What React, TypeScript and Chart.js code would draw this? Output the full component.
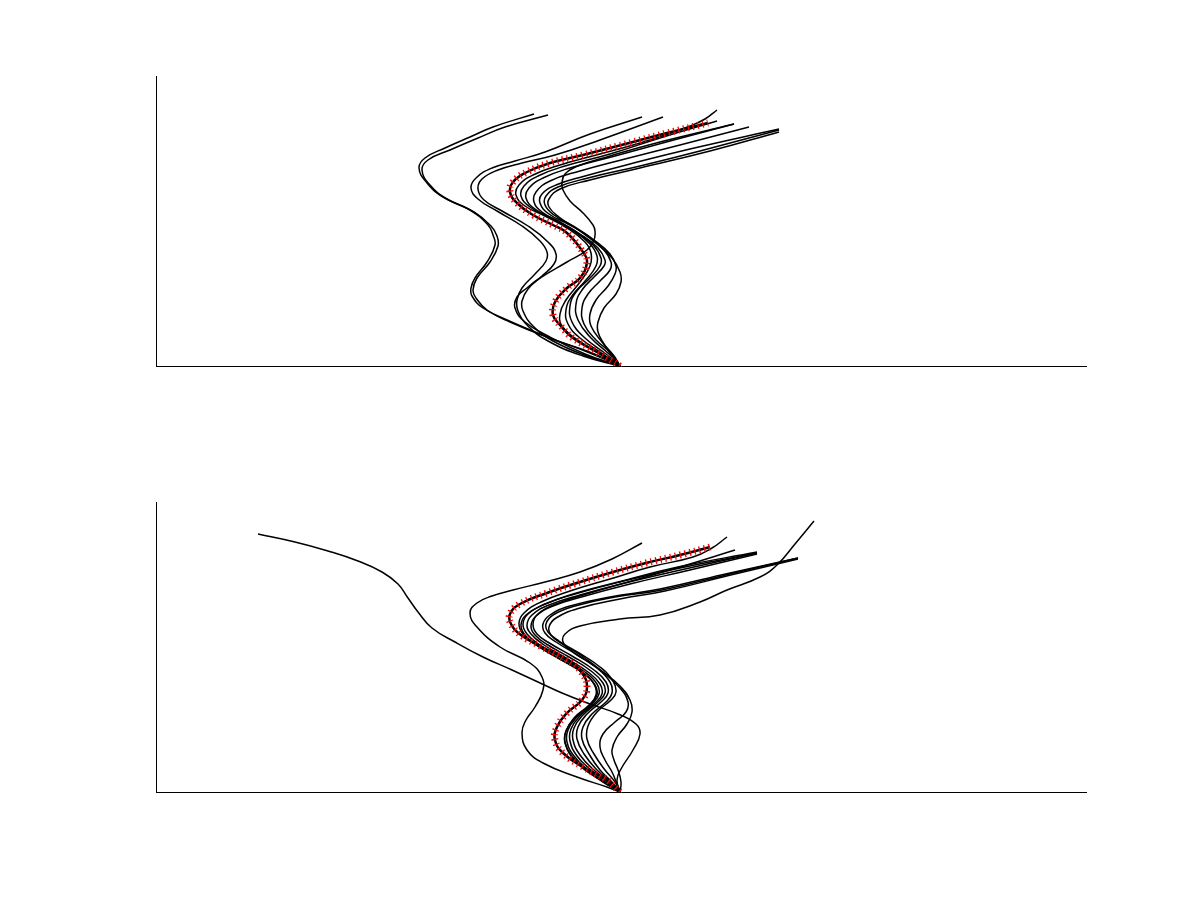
import React, { useEffect, useRef } from "react";
import { Chart, registerables } from "chart.js";

Chart.register(...registerables);

type P = [number, number];

// Axis ranges (arbitrary units, no tick labels in the original)
const X_MIN = 156;
const X_MAX = 1086;
const Y_MIN = 0;
const Y_MAX = 290;

// ---------- Top panel trajectories ----------
const topL1: P[] = [[620,0],[590,13],[550,28],[507,46],[483,58],[472,70],[471,78],[475,88],[487,104],[495,121],[493,131],[488,141],[470,156],[443,169],[427,183],[419,198],[425,208],[445,218],[470,229],[493,239],[534,252]];
const topL2: P[] = [[620,0],[592,13],[552,27],[510,44],[487,56],[476,68],[473,76],[477,88],[490,104],[498,120],[497,130],[491,140],[474,154],[447,167],[430,181],[422,196],[428,206],[450,216],[478,228],[505,239],[548,251]];
const topB1: P[] = [[620,0],[583,10],[548,25],[528,40],[518,55],[517,66],[522,78],[535,92],[546,105],[547,114],[540,125],[522,140],[497,155],[478,167],[471,178],[476,188],[492,198],[515,205],[545,214],[590,232],[642,249]];
const topB2: P[] = [[620,0],[587,10],[553,25],[533,40],[523,55],[522,65],[528,77],[542,90],[554,102],[556,112],[548,124],[528,140],[502,155],[484,166],[478,177],[482,187],[498,196],[522,203],[555,211],[600,226],[663,249]];
const topW: P[] = [[620,0],[585,12],[548,30],[525,44],[515,58],[517,69],[527,78],[540,88],[567,104],[587,116],[594,126],[595,135],[593,141],[583,153],[570,165],[563,176],[562,183],[565,192],[578,200],[610,210],[660,224],[734,242]];
const topR1: P[] = [[620,0],[600,12],[575,28],[562,40],[560,52],[566,66],[580,84],[590,100],[591,113],[585,124],[567,138],[545,150],[525,160],[516,171],[519,181],[533,191],[560,201],[600,212],[650,226],[690,240],[705,247],[717,256]];
const topR2: P[] = [[620,0],[603,12],[580,28],[568,42],[566,56],[572,70],[586,86],[596,100],[597,110],[590,122],[572,136],[550,148],[530,159],[521,170],[524,180],[538,190],[565,200],[610,212],[660,228],[717,245]];
const topR3: P[] = [[620,0],[606,12],[585,28],[572,44],[570,60],[576,74],[590,88],[600,100],[601,108],[594,120],[576,134],[556,146],[535,157],[526,168],[529,178],[543,188],[570,198],[615,210],[670,225],[734,242]];
const topR4: P[] = [[620,0],[609,12],[591,28],[578,46],[576,62],[582,76],[595,90],[604,100],[605,106],[598,118],[580,132],[560,144],[542,154],[534,164],[536,174],[550,185],[580,195],[625,207],[680,221],[749,239]];
const topR5: P[] = [[620,0],[612,12],[596,26],[584,42],[582,58],[588,72],[600,85],[610,96],[611,104],[604,116],[588,130],[568,142],[549,152],[540,163],[542,172],[556,181],[585,190],[630,202],[690,217],[779,237]];
const topR6: P[] = [[620,0],[614,10],[602,24],[591,40],[590,52],[596,66],[608,80],[615,92],[616,100],[610,112],[594,126],[573,140],[554,151],[545,161],[546,170],[558,179],[588,188],[640,200],[700,215],[779,236]];
const topR7: P[] = [[620,0],[612,10],[604,22],[598,34],[598,44],[604,58],[616,72],[621,84],[620,94],[612,108],[597,122],[577,137],[559,149],[549,159],[549,167],[560,177],[590,186],[640,198],[710,215],[779,234]];
const topMean: P[] = [[620,0],[597,14],[573,28],[560,41],[553,51],[555,64],[567,78],[580,88],[587,104],[583,114],[567,133],[553,141],[533,151],[517,163],[510,174],[513,184],[527,194],[550,203],[583,211],[633,224],[667,233],[708,243]];

// ---------- Bottom panel trajectories ----------
const botBL: P[] = [[620,0],[617,12],[621,23],[633,42],[640,58],[636,68],[618,78],[590,88],[562,99],[538,110],[512,122],[483,135],[455,150],[432,164],[418,180],[408,194],[398,208],[382,220],[358,231],[328,241],[295,250],[258,258]];
const botS2: P[] = [[620,0],[607,5],[577,15],[543,29],[527,42],[522,59],[526,72],[535,85],[543,102],[542,115],[530,129],[500,145],[477,165],[470,179],[477,189],[492,196],[513,202],[545,210],[580,220],[612,233],[642,249]];
const botG1a: P[] = [[620,0],[605,10],[588,22],[574,36],[567,50],[568,62],[577,75],[592,88],[599,98],[597,108],[585,120],[562,134],[540,147],[527,158],[523,168],[528,178],[545,188],[575,198],[620,210],[680,224],[757,239]];
const botG1b: P[] = [[620,0],[607,10],[591,22],[577,36],[570,51],[571,63],[580,76],[595,89],[602,98],[600,108],[588,120],[566,134],[544,147],[531,158],[527,167],[532,177],[549,187],[580,197],[625,209],[685,223],[757,239]];
const botG1c: P[] = [[620,0],[609,10],[594,22],[580,37],[573,52],[574,64],[583,77],[598,90],[605,99],[603,109],[591,121],[569,135],[548,147],[535,157],[531,166],[536,176],[553,186],[585,196],[630,208],[690,222],[757,238]];
const botG1d: P[] = [[620,0],[603,10],[586,22],[572,36],[565,49],[566,61],[575,74],[590,87],[597,97],[595,107],[583,119],[560,133],[538,146],[525,157],[521,167],[526,177],[543,187],[573,198],[618,210],[678,225],[757,240]];
const botC1: P[] = [[620,0],[611,10],[597,22],[584,38],[577,53],[578,65],[587,78],[601,90],[608,99],[606,110],[594,122],[572,136],[551,148],[537,158],[533,168],[538,178],[556,188],[590,199],[635,212],[680,225],[735,242]];
const botC2: P[] = [[620,0],[604,10],[585,22],[571,36],[565,50],[566,61],[574,74],[589,87],[596,97],[594,108],[582,120],[558,134],[536,147],[523,158],[519,169],[524,179],[541,190],[570,201],[610,213],[650,225],[693,235],[712,244],[727,255]];
const botG2a: P[] = [[620,0],[612,10],[600,22],[589,38],[582,53],[583,65],[592,78],[606,90],[612,99],[610,110],[597,124],[576,138],[556,150],[545,159],[543,168],[550,177],[570,186],[610,195],[660,203],[730,219],[798,234]];
const botG2b: P[] = [[620,0],[615,10],[605,22],[594,38],[587,53],[588,66],[597,80],[611,92],[616,100],[613,111],[600,125],[579,139],[559,151],[548,160],[546,168],[553,177],[575,186],[615,195],[662,202],[730,218],[798,234]];
const botG2c: P[] = [[620,0],[617,8],[612,20],[605,32],[600,45],[603,58],[615,70],[626,80],[628,90],[620,104],[603,120],[582,136],[562,148],[551,157],[549,165],[556,174],[580,184],[620,193],[665,201],[735,218],[798,233]];
const botX: P[] = [[620,0],[621,10],[618,22],[614,32],[612,42],[617,55],[627,68],[632,80],[630,92],[620,106],[603,120],[585,132],[570,142],[563,150],[565,158],[580,166],[620,173],[660,177],[700,190],[727,202],[760,215],[777,227],[795,248],[814,271]];
const botMean: P[] = [[620,0],[607,12],[583,25],[563,39],[555,52],[557,65],[567,79],[582,92],[587,105],[582,119],[567,132],[540,146],[521,157],[511,168],[510,178],[520,188],[547,199],[580,210],[613,220],[646,229],[680,237],[710,245]];

const topCurves: P[][] = [topL1, topL2, topB1, topB2, topW, topR1, topR2, topR3, topR4, topR5, topR6, topR7];
const botCurves: P[][] = [botBL, botS2, botG1a, botG1b, botG1c, botG1d, botC1, botC2, botG2a, botG2b, botG2c, botX];

function toPts(c: P[]) {
  return c.map(([x, y]) => ({ x, y }));
}

function buildDatasets(curves: P[][], mean: P[]) {
  const ds: any[] = curves.map((c, i) => ({
    data: toPts(c),
    borderColor: "#000000",
    borderWidth: 1.5,
    pointRadius: 0,
    showLine: true,
    tension: 0.45,
    fill: false,
    order: 10 + i,
  }));
  ds.push({
    data: toPts(mean),
    borderColor: "#000000",
    borderWidth: 2.5,
    pointRadius: 0,
    showLine: true,
    tension: 0.45,
    fill: false,
    order: 2,
  });
  ds.push({
    data: toPts(mean),
    borderColor: "#ff0000",
    borderWidth: 7,
    borderDash: [1.3, 3.7],
    borderCapStyle: "butt",
    pointRadius: 0,
    showLine: true,
    tension: 0.45,
    fill: false,
    order: 1,
  });
  return ds;
}

function Panel({ curves, mean, padTop, padBottom }: { curves: P[][]; mean: P[]; padTop: number; padBottom: number }) {
  const ref = useRef<HTMLCanvasElement | null>(null);
  useEffect(() => {
    if (!ref.current) return;
    const chart = new Chart(ref.current, {
      type: "scatter",
      data: { datasets: buildDatasets(curves, mean) },
      options: {
        animation: false,
        responsive: false,
        devicePixelRatio: 1,
        layout: { padding: { left: 156, right: 114, top: padTop, bottom: padBottom } },
        plugins: { legend: { display: false }, tooltip: { enabled: false }, title: { display: false } },
        elements: { line: { borderJoinStyle: "round" } },
        scales: {
          x: {
            type: "linear",
            min: X_MIN,
            max: X_MAX,
            grid: { display: false, drawTicks: false },
            ticks: { display: false },
            border: { display: true, color: "#000000", width: 1 },
            afterFit: (s: any) => { s.height = 0; },
          },
          y: {
            type: "linear",
            min: Y_MIN,
            max: Y_MAX,
            grid: { display: false, drawTicks: false },
            ticks: { display: false },
            border: { display: true, color: "#000000", width: 1 },
            afterFit: (s: any) => { s.width = 0; },
          },
        },
      } as any,
    });
    return () => chart.destroy();
  }, []);
  return <canvas ref={ref} width={1200} height={450} style={{ display: "block", width: 1200, height: 450 }} />;
}

export default function App() {
  return (
    <div style={{ position: "absolute", left: 0, top: 0, width: 1200, height: 900, background: "#ffffff" }}>
      <Panel curves={topCurves} mean={topMean} padTop={76} padBottom={84} />
      <Panel curves={botCurves} mean={botMean} padTop={52} padBottom={108} />
    </div>
  );
}
